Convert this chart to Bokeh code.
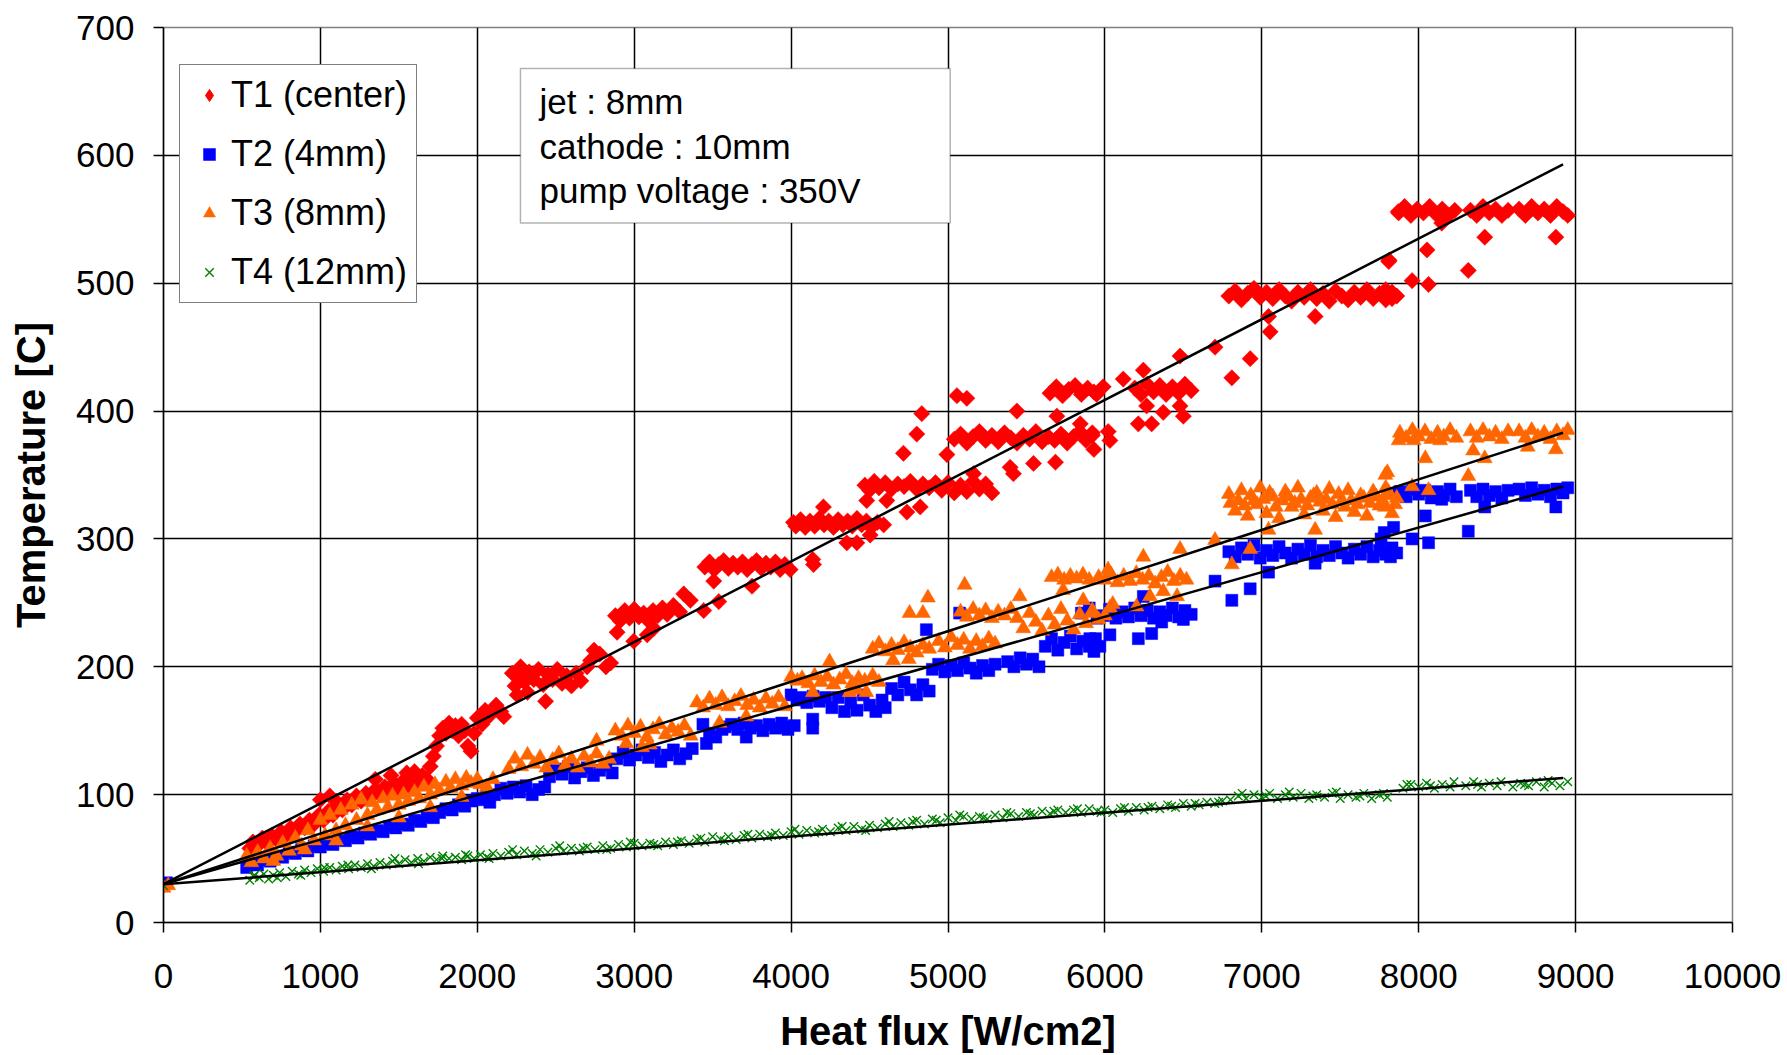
import math
from bokeh.plotting import figure
from bokeh.models import Range1d, FixedTicker, Legend, LegendItem, BoxAnnotation, Label
from bokeh.embed import file_html
from bokeh.resources import INLINE

FONT = "Liberation Sans"

series_names = ["T1 (center)", "T2 (4mm)", "T3 (8mm)", "T4 (12mm)"]
info_lines = ["jet : 8mm", "cathode : 10mm", "pump voltage : 350V"]
x_title = "Heat flux [W/cm2]"
y_title = "Temperature [C]"
x_ticks = [0, 1000, 2000, 3000, 4000, 5000, 6000, 7000, 8000, 9000, 10000]
y_ticks = [0, 100, 200, 300, 400, 500, 600, 700]

# T1 (center) : (heat flux, temperature)
t1_points = [
    (0, 29),
    (550, 58), (570, 63), (600, 60), (630, 66), (660, 62), (690, 68), (720, 65), (750, 71), (780, 68),
    (810, 74), (840, 71), (870, 77), (900, 74), (930, 80), (960, 77), (990, 84), (1000, 96), (1020, 80),
    (1050, 87), (1060, 99), (1080, 84), (1100, 95), (1110, 92), (1140, 88), (1170, 96), (1200, 92),
    (1230, 99), (1260, 95), (1290, 101), (1320, 98), (1350, 112), (1350, 104), (1380, 100), (1410, 106),
    (1440, 102), (1450, 115), (1470, 109), (1500, 105), (1530, 111), (1550, 117), (1560, 107), (1590, 113),
    (1600, 118), (1620, 109), (1650, 115), (1680, 112),
    (1700, 122), (1720, 130), (1740, 138), (1760, 146), (1780, 152), (1800, 148), (1820, 156), (1840, 150),
    (1860, 154), (1880, 146), (1900, 155), (1920, 150), (1940, 138), (1960, 134), (1980, 148), (2000, 160),
    (2030, 155), (2050, 166), (2080, 162), (2120, 170), (2150, 165), (2042, 158), (2169, 161),
    (2223, 195), (2276, 200), (2240, 185), (2270, 192), (2300, 188), (2330, 196), (2360, 190), (2390, 198),
    (2420, 186), (2450, 194), (2480, 190), (2510, 198), (2540, 187), (2570, 193), (2600, 185), (2630, 195),
    (2660, 189), (2254, 178), (2435, 173), (2320, 180),
    (2700, 200), (2722, 205), (2744, 213), (2780, 210), (2820, 200), (2850, 203),
    (2880, 240), (2910, 236), (2940, 244), (2970, 238), (3000, 245), (3030, 239), (3060, 242), (3090, 236),
    (3120, 244), (3150, 240), (3180, 246), (3210, 241), (3250, 248), (3290, 243), (2891, 227), (2997, 220),
    (3083, 225), (3125, 230), (3316, 257), (3358, 252), (3443, 244), (3539, 251),
    (3450, 278), (3480, 282), (3510, 276), (3540, 280), (3570, 283), (3600, 277), (3630, 281), (3660, 278),
    (3690, 282), (3720, 276), (3750, 280), (3780, 283), (3810, 277), (3840, 281), (3870, 278), (3900, 282),
    (3930, 276), (3960, 280), (3507, 267), (3751, 263), (3994, 276),
    (4015, 313), (4143, 280), (4138, 284),
    (4030, 310), (4060, 315), (4090, 309), (4120, 314), (4150, 310), (4180, 316), (4210, 311), (4240, 314),
    (4270, 309), (4300, 315), (4330, 311), (4360, 314), (4390, 310), (4420, 316), (4450, 311), (4480, 314),
    (4510, 309), (4550, 313), (4590, 311), (4206, 325), (4355, 297), (4419, 297), (4504, 303),
    (4470, 342), (4500, 338), (4530, 345), (4560, 340), (4600, 344), (4640, 339), (4680, 343), (4720, 341),
    (4760, 345), (4800, 339), (4840, 343), (4880, 340), (4920, 344), (4482, 330), (4610, 330), (4738, 321),
    (4823, 325), (4716, 367), (4801, 382), (4833, 398), (5057, 412), (5120, 410), (4993, 366),
    (4960, 338), (5000, 344), (5040, 336), (5080, 342), (5120, 337), (5160, 345), (5200, 339), (5240, 343),
    (5280, 336),
    (5040, 378), (5080, 382), (5120, 375), (5160, 380), (5200, 384), (5240, 377), (5280, 381), (5320, 376),
    (5360, 383), (5400, 379), (5440, 375), (5480, 381), (5520, 378), (5560, 384), (5600, 376), (5640, 380),
    (5680, 377), (5720, 382), (5760, 375), (5800, 380), (5840, 384), (5880, 377), (5920, 381),
    (5163, 351), (5396, 356), (5417, 351), (5545, 359), (5685, 360), (5439, 400), (5694, 396), (5843, 390),
    (5650, 414), (5690, 419), (5730, 412), (5770, 417), (5810, 420), (5850, 413), (5890, 418), (5930, 415),
    (5920, 383), (5930, 370), (6021, 384), (6032, 377), (5947, 413), (5989, 419), (6117, 425), (6245, 432),
    (6479, 443), (6702, 450), (6926, 441), (6809, 426),
    (6190, 418), (6230, 413), (6270, 421), (6310, 415), (6350, 420), (6390, 413), (6430, 419), (6470, 414),
    (6510, 421), (6550, 416), (6266, 404), (6372, 399), (6479, 404), (6500, 396), (6213, 390), (6298, 390),
    (7053, 462), (7043, 474), (7340, 474),
    (6790, 490), (6830, 494), (6870, 487), (6910, 492), (6950, 496), (6990, 489), (7030, 493), (7070, 488),
    (7110, 495), (7150, 490), (7190, 486), (7230, 493), (7270, 489), (7310, 495), (7350, 488), (7390, 492),
    (7430, 486), (7470, 494), (7510, 490), (7550, 487), (7590, 493), (7630, 489), (7670, 495), (7710, 488),
    (7750, 492), (7790, 487), (7830, 493), (7860, 490), (7809, 517), (7872, 555),
    (7870, 556), (7910, 560), (7950, 553), (7990, 558), (8030, 555), (8070, 560), (8110, 554), (8150, 558),
    (8190, 553), (8230, 557), (8330, 557), (8370, 553), (8410, 560), (8450, 555), (8490, 558), (8530, 553),
    (8570, 557), (8640, 558), (8680, 553), (8720, 560), (8760, 555), (8800, 558), (8840, 553), (8880, 560),
    (8920, 556), (8950, 553),
    (8147, 547), (8053, 526), (8421, 536), (8316, 510), (8874, 536), (7811, 518), (7790, 495), (7830, 488),
    (7958, 502), (8063, 499),
]

# T2 (4mm)
t2_points = [
    (0, 29), (20, 31),
    (530, 43), (560, 46), (600, 45), (640, 49), (680, 48), (720, 52), (760, 51), (800, 55), (840, 54),
    (880, 57), (920, 56), (960, 60), (1000, 59), (1040, 62), (1080, 61), (1120, 65), (1160, 64), (1200, 67),
    (1240, 66), (1280, 70), (1320, 69), (1360, 72), (1400, 71), (1440, 75), (1480, 74), (1520, 77),
    (1560, 76), (1600, 80), (1640, 79), (1680, 83), (1720, 82), (1760, 86), (1800, 89), (1840, 88),
    (1880, 92), (1920, 91), (1960, 95), (2000, 97),
    (2020, 96), (2060, 99), (2080, 94),
    (2110, 100), (2150, 105), (2190, 101), (2230, 106), (2270, 102), (2310, 107), (2350, 100), (2390, 104),
    (2430, 106),
    (2460, 114), (2500, 120), (2540, 116), (2580, 122), (2620, 113), (2660, 118), (2700, 121), (2740, 115),
    (2780, 119), (2820, 123), (2860, 117),
    (2890, 128), (2930, 133), (2970, 127), (3010, 131), (3050, 135), (3090, 129), (3130, 133), (3170, 126),
    (3210, 131), (3250, 135), (3290, 128), (3330, 132), (3370, 136),
    (3460, 140), (3480, 148), (3520, 145), (3560, 151),
    (3580, 153), (3620, 155), (3660, 151), (3700, 156), (3740, 152), (3780, 154), (3820, 150), (3860, 155),
    (3900, 152), (3940, 156), (3980, 151), (4020, 154), (3714, 145), (3438, 155),
    (4000, 178), (4040, 174), (3950, 153), (4138, 159), (4138, 152),
    (4060, 176), (4100, 172), (4140, 177), (4180, 173), (4220, 176),
    (4260, 168), (4300, 176), (4340, 165), (4380, 172), (4420, 166), (4460, 178), (4500, 170), (4540, 165),
    (4580, 174), (4600, 168),
    (4640, 183), (4680, 178), (4720, 188), (4760, 182), (4800, 178), (4840, 186), (4880, 181), (4862, 229),
    (4900, 198), (4940, 202), (4980, 196), (5020, 201), (5060, 197), (5100, 203), (5140, 199), (5180, 195),
    (5220, 201), (5260, 197), (5300, 202), (5074, 242),
    (5380, 204), (5420, 200), (5460, 207), (5500, 202), (5540, 206), (5580, 200),
    (5620, 216), (5660, 222), (5700, 213), (5740, 219), (5780, 224), (5820, 214), (5860, 220), (5900, 216),
    (5940, 222), (5850, 242), (5900, 246), (5950, 238),
    (5904, 222), (5930, 212), (5968, 216), (6032, 225),
    (5990, 240), (6030, 245), (6070, 238), (6110, 243), (6150, 239), (6190, 246), (6230, 240), (6270, 244),
    (6310, 238), (6350, 243), (6390, 240), (6430, 246), (6470, 239), (6510, 244), (6550, 241),
    (6245, 255), (6213, 222), (6298, 226), (6362, 235), (6500, 237), (6702, 267), (6809, 252), (6926, 261),
    (7043, 274),
    (6790, 290), (6830, 286), (6870, 293), (6910, 288), (6950, 295), (6990, 285), (7030, 291), (7070, 287),
    (7110, 294), (7150, 289), (7190, 285), (7230, 292), (7270, 288), (7310, 295), (7350, 286), (7390, 291),
    (7430, 287), (7470, 294), (7510, 289), (7550, 285), (7590, 292), (7630, 288), (7670, 294), (7710, 286),
    (7750, 291), (7790, 288), (7830, 293), (7860, 289),
    (7340, 281), (7780, 305), (7840, 309), (7872, 335),
    (7880, 337), (7920, 333), (7960, 339), (8000, 335), (8040, 338), (8080, 332), (8120, 337), (8160, 334),
    (8200, 339), (8240, 333), (8330, 338), (8370, 333), (8410, 339), (8450, 334), (8490, 337), (8530, 332),
    (8570, 338), (8640, 339), (8680, 334), (8720, 340), (8760, 335), (8800, 338), (8840, 333), (8880, 339),
    (8920, 336), (8950, 340),
    (8147, 331), (8042, 318), (8421, 325), (8316, 306), (8874, 325), (7958, 300), (8063, 297), (7760, 300),
    (7800, 290), (7820, 286),
]

# T3 (8mm)
t3_points = [
    (0, 27), (30, 29),
    (530, 52), (560, 47), (600, 55), (640, 50), (680, 58), (720, 52), (760, 62), (800, 56), (840, 66),
    (880, 60), (920, 72), (960, 64), (1000, 80), (1030, 68), (1060, 84), (1100, 72), (1130, 88), (1160, 76),
    (1200, 92), (1230, 80), (1260, 96), (1300, 84), (1330, 94), (1360, 88), (1400, 97), (1430, 90),
    (1460, 99), (1500, 92), (1530, 100), (1560, 95), (1600, 102), (1630, 97), (1660, 106), (1700, 100),
    (1730, 108), (1760, 103), (1800, 110), (1830, 105), (1860, 112), (1900, 107), (1930, 113), (1960, 109),
    (2000, 112),
    (700, 48), (900, 57), (1100, 64), (1300, 75), (1500, 82), (1700, 90), (1900, 98),
    (2020, 108), (2060, 106), (2100, 112),
    (2200, 120), (2240, 128), (2280, 122), (2320, 131), (2360, 124), (2400, 129), (2440, 121), (2480, 127),
    (2520, 132), (2560, 123), (2600, 128), (2640, 121), (2680, 130), (2720, 125), (2760, 132), (2800, 124),
    (2840, 128), (2760, 142),
    (2880, 150), (2920, 146), (2960, 154), (3000, 148), (3040, 153), (3080, 145), (3120, 151), (3160, 155),
    (3200, 147), (3240, 152), (3280, 149), (3320, 154), (3360, 146), (2950, 140), (3050, 137), (3100, 139),
    (3400, 172), (3440, 168), (3480, 175), (3520, 170), (3560, 176), (3600, 169), (3640, 173), (3680, 177),
    (3720, 170), (3760, 174), (3800, 168), (3840, 175), (3880, 171), (3920, 176), (3960, 169), (3544, 156),
    (3714, 161),
    (4000, 192), (4040, 189),
    (4070, 191), (4110, 187), (4150, 193), (4190, 188), (4230, 192), (4270, 186), (4310, 190), (4350, 194),
    (4390, 187), (4430, 191), (4470, 189), (4520, 193), (4560, 188), (4245, 204), (4138, 180), (4372, 180),
    (4420, 182), (4479, 180),
    (4520, 214), (4560, 218), (4600, 212), (4640, 217), (4680, 213), (4720, 219), (4760, 215), (4800, 211),
    (4840, 217), (4880, 214), (4650, 205), (4750, 206), (4755, 242), (4840, 242), (4872, 254),
    (4940, 220), (4980, 215), (5020, 223), (5060, 217), (5100, 221), (5140, 214), (5180, 220), (5220, 216),
    (5260, 222), (5300, 218), (5106, 264),
    (5080, 243), (5120, 239), (5160, 245), (5200, 240), (5240, 244), (5280, 238), (5320, 243), (5360, 240),
    (5400, 245),
    (5440, 238), (5480, 230), (5520, 242), (5560, 235), (5600, 228), (5640, 240), (5680, 233), (5720, 245),
    (5760, 236), (5800, 229), (5840, 241), (5880, 234), (5920, 244), (5960, 237), (5457, 255), (5734, 260),
    (5862, 252),
    (5660, 270), (5700, 272), (5740, 268), (5780, 271), (5820, 269), (5860, 272), (5900, 268), (5960, 270),
    (5920, 242), (6000, 240), (6032, 246),
    (6000, 268), (6040, 272), (6080, 266), (6120, 271), (6160, 267), (6200, 273), (6240, 268), (6280, 271),
    (6320, 265), (6360, 270), (6400, 274), (6440, 267), (6480, 271), (6520, 268),
    (6020, 276), (6245, 286), (6479, 292), (6702, 299), (6372, 259), (6287, 255), (6460, 255), (6050, 249),
    (6202, 247), (6809, 280), (6926, 292),
    (6790, 335), (6830, 322), (6870, 338), (6910, 318), (6950, 330), (6990, 340), (7030, 320), (7070, 333),
    (7110, 316), (7150, 337), (7190, 325), (7230, 340), (7270, 319), (7310, 332), (7350, 336), (7390, 322),
    (7430, 339), (7470, 317), (7510, 330), (7550, 338), (7590, 321), (7630, 334), (7670, 318), (7710, 337),
    (7750, 326), (7790, 340), (7830, 320), (7860, 332),
    (6800, 328), (6850, 330), (6890, 326), (6930, 334), (6970, 327), (7010, 331), (7050, 336), (7090, 325),
    (7130, 330), (7170, 333), (7210, 328), (7250, 331), (7290, 326), (7330, 334), (7370, 329), (7410, 331),
    (7450, 327), (7490, 335), (7530, 325), (7570, 330), (7610, 327), (7650, 332), (7690, 328), (7730, 333),
    (7770, 330), (7810, 336), (7850, 327),
    (7043, 307), (7340, 307), (7787, 350), (7872, 377),
    (7880, 383), (7920, 379), (7960, 385), (8000, 380), (8040, 384), (8080, 378), (8120, 383), (8160, 380),
    (8200, 385), (8240, 379), (8330, 384), (8370, 379), (8410, 385), (8450, 380), (8490, 383), (8530, 378),
    (8570, 384), (8640, 384), (8680, 379), (8720, 385), (8760, 380), (8800, 383), (8840, 378), (8880, 384),
    (8920, 381), (8950, 385),
    (7968, 377), (8042, 363), (8137, 377), (8347, 369), (8421, 363), (8316, 349), (8695, 372), (8874, 370),
    (7800, 352), (7789, 334), (7785, 325), (7958, 341), (8063, 338),
]

# T4 (12mm)
t4_points = [
    (0, 29),
    (550, 33), (580, 37), (610, 35), (640, 38), (670, 34), (700, 37), (740, 39), (780, 36), (820, 40),
    (860, 38), (900, 41), (940, 39), (980, 42), (1020, 40), (1060, 43), (1100, 41), (1140, 44), (1180, 42),
    (1220, 45), (1260, 43), (1300, 46), (1340, 44), (1380, 47), (1420, 45), (1460, 48), (1500, 46),
    (1540, 49), (1580, 47), (1620, 50), (1660, 48), (1700, 51), (1740, 49), (1780, 52), (1820, 50),
    (1860, 51), (1900, 49), (1940, 52), (1980, 50), (2020, 53), (2060, 51), (2100, 54), (2150, 52),
    (2200, 55), (2250, 53), (2300, 56), (2350, 54), (2400, 57), (2450, 55), (2500, 58), (2550, 56),
    (2600, 58), (2650, 56), (2700, 59), (2750, 57), (2800, 60), (2850, 58), (2900, 61), (2950, 59),
    (3000, 62), (3050, 60), (3100, 62), (3150, 60), (3200, 63), (3250, 61), (3300, 64), (3350, 62),
    (3400, 65), (3450, 63), (3500, 67), (3550, 65), (3600, 67), (3650, 65), (3700, 68), (3750, 66),
    (3800, 69), (3850, 67), (3900, 70), (3950, 68), (4000, 71), (4050, 69), (4100, 72), (4150, 70),
    (4200, 73), (4250, 71), (4300, 74), (4350, 72), (4400, 75), (4450, 73), (4500, 76), (4550, 74),
    (4600, 77), (4650, 75), (4700, 78), (4750, 76), (4800, 80), (4850, 77), (4900, 81), (4950, 78),
    (5000, 82), (5050, 80), (5100, 83), (5150, 81), (5200, 83), (5250, 81), (5300, 84), (5350, 82),
    (5400, 85), (5450, 83), (5500, 86), (5550, 84), (5600, 87), (5650, 85), (5700, 88), (5750, 86),
    (5800, 88), (5850, 86), (5900, 89), (5950, 87), (6000, 88), (6050, 86), (6100, 89), (6150, 87),
    (6200, 90), (6250, 88), (6300, 91), (6350, 89), (6400, 92), (6450, 90), (6500, 93), (6550, 91),
    (6600, 92), (6650, 94), (6700, 93), (6750, 95),
    (6800, 96), (6850, 99), (6900, 97), (6950, 100), (7000, 98), (7050, 101), (7100, 97), (7150, 100),
    (7200, 98), (7250, 101), (7300, 97), (7350, 100), (7400, 98), (7450, 101), (7500, 97), (7550, 100),
    (7600, 98), (7650, 101), (7700, 97), (7750, 100), (7800, 98),
    (7900, 105), (7950, 108), (8000, 106), (8050, 109), (8100, 105), (8150, 108), (8200, 106), (8300, 107),
    (8350, 110), (8400, 106), (8450, 109), (8500, 107), (8600, 106), (8650, 109), (8700, 107), (8750, 110),
    (8800, 106), (8850, 109), (8900, 107), (8950, 110),
    (575, 36), (725, 35), (875, 37), (1025, 43), (1175, 45), (1325, 42), (1475, 50), (1625, 46),
    (1775, 50), (1925, 53), (2075, 50), (2225, 57), (2375, 52), (2525, 60), (2675, 58), (2825, 57),
    (2975, 63), (3125, 61), (3275, 63), (3425, 66), (3575, 64), (3725, 69), (3875, 68), (4025, 73),
    (4175, 71), (4325, 75), (4475, 72), (4625, 79), (4775, 79), (4925, 80), (5075, 84), (5225, 82),
    (5375, 86), (5525, 85), (5675, 87), (5825, 89), (5975, 86), (6125, 90), (6275, 90), (6425, 91),
    (6575, 93), (6725, 94), (6875, 101), (7025, 99), (7175, 102), (7325, 99), (7475, 102), (7625, 99),
    (7775, 101), (7925, 108), (8075, 107), (8225, 110), (8375, 108), (8525, 110), (8675, 108), (8825, 111),
]

# linear trend lines (start / end)
trend_x = [0, 8920]
t1_fit = [30, 593]
t2_fit = [30, 341]
t3_fit = [30, 383]
t4_fit = [30, 113]

RED, BLUE, ORANGE, GREEN = "#FF0000", "#0000FF", "#FF6600", "#008000"


def split(points):
    return [pt[0] for pt in points], [pt[1] for pt in points]


p = figure(width=1787, height=1055, x_range=Range1d(0, 10000), y_range=Range1d(0, 700),
           output_backend="svg", toolbar_location=None,
           min_border_left=163, min_border_right=55, min_border_top=27, min_border_bottom=132)
p.background_fill_color = "white"
p.border_fill_color = "white"
p.outline_line_color = "#808080"
p.outline_line_width = 1.5

# axes
for ax in (p.xaxis[0], p.yaxis[0]):
    ax.axis_line_color = "black"
    ax.axis_line_width = 1.5
    ax.major_tick_line_color = "black"
    ax.major_tick_line_width = 1.5
    ax.major_tick_out = 10
    ax.major_tick_in = 0
    ax.minor_tick_line_color = None
    ax.major_label_text_font = FONT
    ax.major_label_text_font_size = "35px"
    ax.major_label_text_color = "black"
    ax.axis_label_text_font = FONT
    ax.axis_label_text_font_size = "40px"
    ax.axis_label_text_font_style = "bold"
    ax.axis_label_text_color = "black"

p.xaxis.ticker = FixedTicker(ticks=x_ticks)
p.yaxis.ticker = FixedTicker(ticks=y_ticks)
p.xaxis.axis_label = x_title
p.yaxis.axis_label = y_title
p.xaxis.major_label_standoff = 31
p.xaxis.axis_label_standoff = 18
p.yaxis.major_label_standoff = 19
p.yaxis.axis_label_standoff = 20

p.xgrid.ticker = FixedTicker(ticks=x_ticks[1:-1])
p.ygrid.ticker = FixedTicker(ticks=y_ticks[1:])
for g in (p.xgrid[0], p.ygrid[0]):
    g.grid_line_color = "black"
    g.grid_line_width = 1.5

# data
x1, y1 = split(t1_points)
x2, y2 = split(t2_points)
x3, y3 = split(t3_points)
x4, y4 = split(t4_points)

r1 = p.scatter(x1, y1, marker="square", angle=math.pi / 4, size=11.5,
               fill_color=RED, line_color=RED, line_width=0.5)
r2 = p.scatter(x2, y2, marker="square", size=12, fill_color=BLUE, line_color=BLUE, line_width=0.5)
r3 = p.scatter(x3, y3, marker="triangle", size=15, fill_color=ORANGE, line_color=ORANGE, line_width=0.5)
r4 = p.scatter(x4, y4, marker="x", size=12, line_color=GREEN, line_width=1.4)

for fit in (t1_fit, t2_fit, t3_fit, t4_fit):
    p.line(trend_x, fit, line_color="black", line_width=2.5)

# legend key for the diamond series (one undrawn point, used only for the legend swatch)
nan = float("nan")
r1_key = p.scatter(x=[nan], y=[nan], marker="diamond", size=10, fill_color=RED, line_color=RED)

legend = Legend(
    items=[LegendItem(label=series_names[0], renderers=[r1_key]),
           LegendItem(label=series_names[1], renderers=[r2]),
           LegendItem(label=series_names[2], renderers=[r3]),
           LegendItem(label=series_names[3], renderers=[r4])],
    location=(16, 619),
    label_text_font=FONT, label_text_font_size="36px", label_text_color="black",
    glyph_width=40, glyph_height=30, label_height=40, label_standoff=2,
    spacing=17, padding=9, margin=0,
    border_line_color="black", border_line_width=1.5,
    background_fill_color="white", background_fill_alpha=1.0,
)
p.add_layout(legend)

# info box
box = BoxAnnotation(left=2275, right=5014, bottom=547, top=668,
                    fill_color="white", fill_alpha=1.0, line_color="black", line_width=1.5)
p.add_layout(box)
for txt, yv in zip(info_lines, [642, 607, 572.5]):
    p.add_layout(Label(x=2397, y=yv, text=txt, text_font=FONT, text_font_size="35px",
                       text_color="black", text_baseline="middle", text_align="left"))

open("out.html", "w").write(file_html(p, INLINE))
